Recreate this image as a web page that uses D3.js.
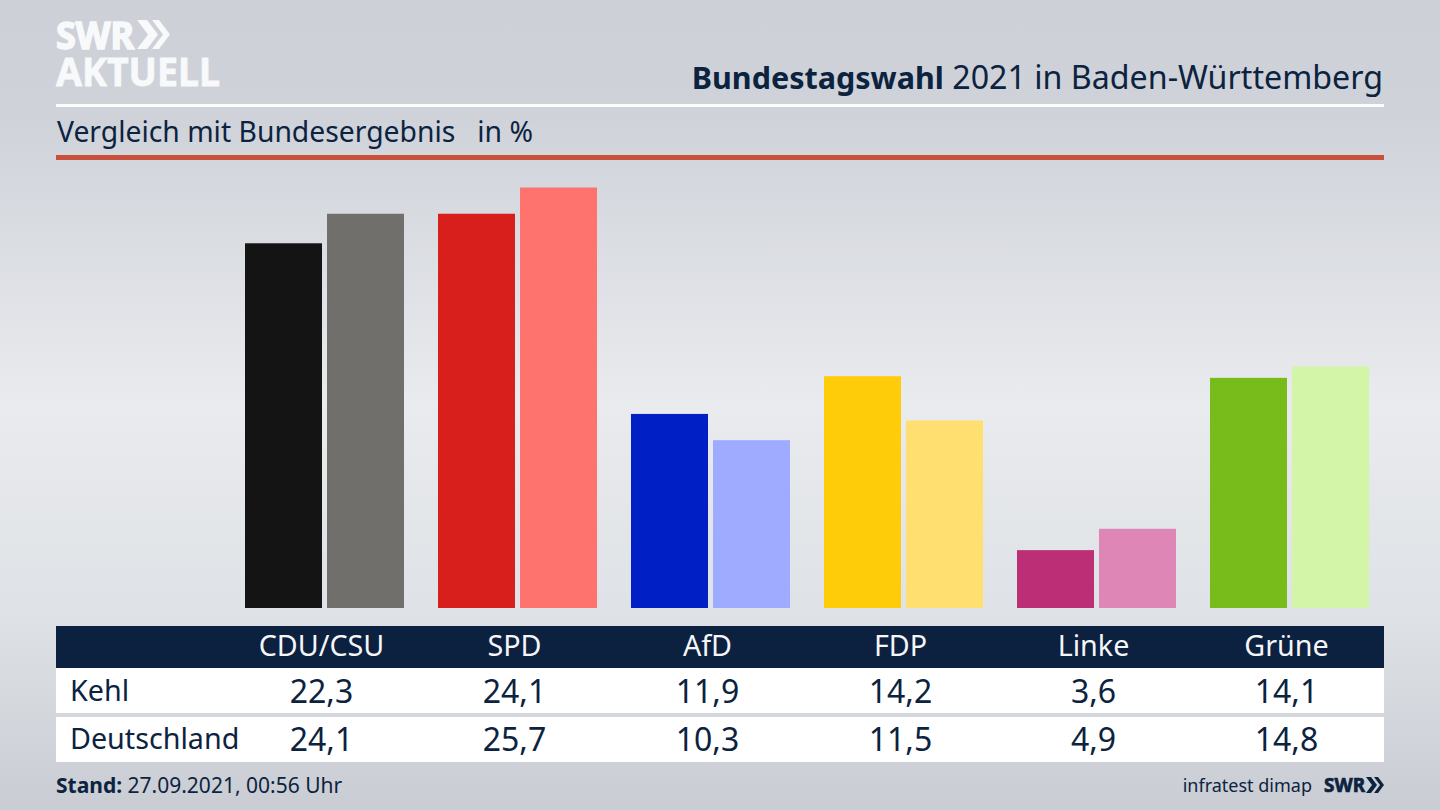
<!DOCTYPE html>
<html lang="de"><head><meta charset="utf-8">
<script src="https://cdnjs.cloudflare.com/ajax/libs/d3/7.8.5/d3.min.js"></script>
<style>html,body{margin:0;padding:0;overflow:hidden;background:#d5d8de}svg{display:block}text{font-family:"Noto Sans",sans-serif;fill:#0c2340}</style>
</head><body><svg id="c" width="1440" height="810"></svg>
<script>
const categories=["CDU/CSU","SPD","AfD","FDP","Linke","Grüne"];
const kehlLabel="Kehl", deLabel="Deutschland";
const kehl=[22.3,24.1,11.9,14.2,3.6,14.1];
const deutschland=[24.1,25.7,10.3,11.5,4.9,14.8];
const kehlColors=["#141414","#d81f1c","#0020c6","#ffcc0a","#bc2e76","#78bc1c"];
const deColors=["#706f6c","#ff736f","#9eabff","#ffdf70","#de87b6","#d3f5a8"];

const svg=d3.select("#c");
const defs=svg.append("defs");
const g=defs.append("linearGradient").attr("id","bg").attr("x1",0).attr("y1",0).attr("x2",0).attr("y2",1);
[[0,"#cdd0d7"],[0.14,"#cfd2d9"],[0.5,"#e9ebee"],[0.75,"#dfe2e6"],[1,"#c9ccd3"]].forEach(d=>g.append("stop").attr("offset",d[0]).attr("stop-color",d[1]));
svg.append("rect").attr("width",1440).attr("height",810).attr("fill","url(#bg)");

// logo
svg.append("text").attr("x",56).attr("y",49).attr("font-size",38).attr("font-weight",700).attr("textLength",78).attr("lengthAdjust","spacingAndGlyphs").style("fill","#f8f9fa").style("stroke","#f8f9fa").style("stroke-width",1.6).text("SWR");
svg.append("text").attr("x",56).attr("y",86).attr("font-size",40).attr("font-weight",700).attr("textLength",164).attr("lengthAdjust","spacingAndGlyphs").style("fill","#f8f9fa").style("stroke","#f8f9fa").style("stroke-width",0.8).text("AKTUELL");
svg.append("path").attr("d","M137,20h10l11,14.5l-11,14.5h-10l11,-14.5zM152,20h7l11,14.5l-11,14.5h-7l11,-14.5z").attr("fill","#f8f9fa");

// header
const title=svg.append("text").attr("x",1383).attr("y",89).attr("text-anchor","end").attr("font-size",32.2);
title.append("tspan").attr("font-weight",700).attr("font-size",30.5).text("Bundestagswahl");
title.append("tspan").text(" 2021 in Baden-Württemberg");
svg.append("rect").attr("x",56).attr("y",104).attr("width",1328).attr("height",3).attr("fill","#fbfcfc");
svg.append("text").attr("x",57).attr("y",142).attr("font-size",28.3).attr("xml:space","preserve").style("white-space","pre").text("Vergleich mit Bundesergebnis   in %");
svg.append("rect").attr("x",56).attr("y",155).attr("width",1328).attr("height",5).attr("fill","#c8503c");

// scales
const x=d3.scaleBand().domain(categories).range([225,1383]).paddingInner(0).paddingOuter(0);
const y=d3.scaleLinear().domain([0,25.7]).range([609.2,187.5]);
const baseline=608, barW=77, gap=5, barShift=3;
const rows=[[kehl,kehlColors,-1],[deutschland,deColors,1]];
rows.forEach(([vals,cols,side])=>{
  svg.append("g").selectAll("rect").data(categories).join("rect")
   .attr("x",d=>x(d)+x.bandwidth()/2+barShift+(side<0?-(barW+gap/2):gap/2))
   .attr("y",(d,i)=>y(vals[i])).attr("width",barW)
   .attr("height",(d,i)=>baseline-y(vals[i])).attr("fill",(d,i)=>cols[i]);
});

// table
svg.append("rect").attr("x",56).attr("y",626).attr("width",1328).attr("height",42).attr("fill","#0c203f");
svg.append("rect").attr("x",56).attr("y",668).attr("width",1328).attr("height",45).attr("fill","#fff");
svg.append("rect").attr("x",56).attr("y",717).attr("width",1328).attr("height",45).attr("fill","#fff");
const fmt=v=>d3.format(".1f")(v).replace(".",",");
svg.append("g").selectAll("text").data(categories).join("text")
  .attr("x",d=>x(d)+x.bandwidth()/2).attr("y",656).attr("text-anchor","middle").attr("font-size",28.7).style("fill","#f4f6f8").text(d=>d);
[[kehlLabel,kehl,702],[deLabel,deutschland,750]].forEach(([lab,vals,yy])=>{
  svg.append("text").attr("x",70).attr("y",yy-1).attr("font-size",28.7).text(lab);
  svg.append("g").selectAll("text").data(categories).join("text")
   .attr("x",d=>x(d)+x.bandwidth()/2).attr("y",yy+1).attr("text-anchor","middle").attr("font-size",32).text((d,i)=>fmt(vals[i]));
});

// footer
const st=svg.append("text").attr("x",56).attr("y",793).attr("font-size",21);
st.append("tspan").attr("font-weight",700).text("Stand:");
st.append("tspan").text(" 27.09.2021, 00:56 Uhr");
svg.append("text").attr("x",1312).attr("y",792).attr("text-anchor","end").attr("font-size",18).text("infratest dimap");
svg.append("text").attr("x",1324).attr("y",792).attr("font-size",20).attr("font-weight",700).attr("textLength",41).attr("lengthAdjust","spacingAndGlyphs").style("stroke","#0c2340").style("stroke-width",0.7).text("SWR");
svg.append("path").attr("d","M1366,777h5l6,8l-6,8h-5l6,-8zM1374,777h4l6,8l-6,8h-4l6,-8z").attr("fill","#0c2340");
</script></body></html>
